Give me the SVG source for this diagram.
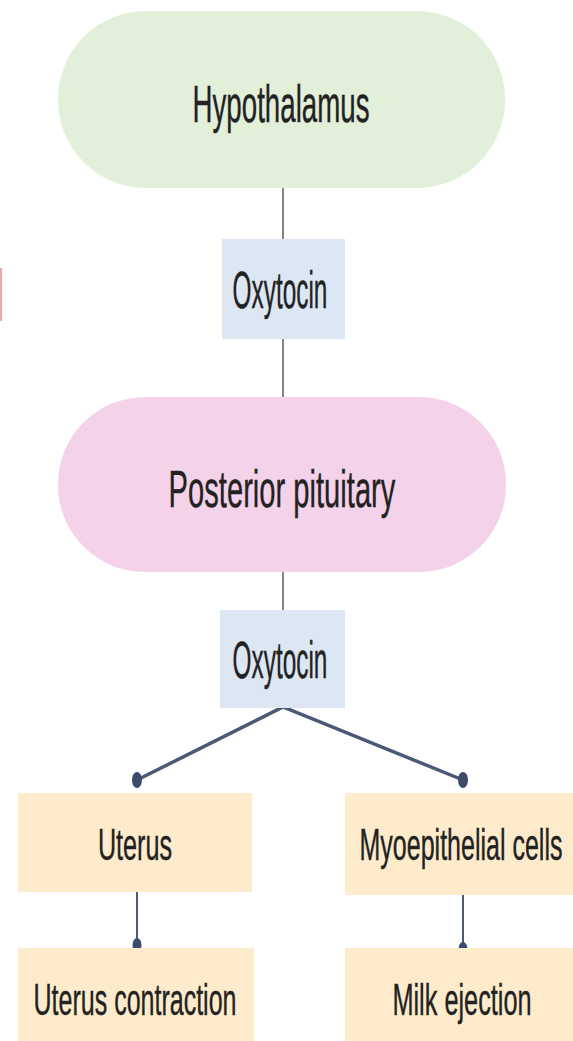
<svg xmlns="http://www.w3.org/2000/svg" width="573" height="1041" viewBox="0 0 573 1041">
<defs>
<style>
.lbl{font-family:"Liberation Sans",Arial,sans-serif;fill:#222;text-anchor:middle;stroke:#222;stroke-width:0.4}
.big{font-size:52px}
.sm{font-size:45px}
.thin{stroke:#666;stroke-width:1.6;fill:none}
.blue{stroke:#4d5877;fill:none}
.dot{fill:#3c4a6c}
</style>
</defs>
<rect width="573" height="1041" fill="#ffffff"/>
<rect x="0" y="268" width="2" height="53" fill="#f2a6a6"/>
<g id="connectors">
<line class="thin" x1="283" y1="188" x2="283" y2="239"/>
<line class="thin" x1="283" y1="339" x2="283" y2="397"/>
<line class="thin" x1="283" y1="572" x2="283" y2="611"/>
<polyline class="blue" stroke-width="3.5" points="137,780 283,707 463,780"/>
<ellipse class="dot" cx="137" cy="780" rx="5" ry="8"/>
<ellipse class="dot" cx="463" cy="780" rx="5" ry="8"/>
<line class="blue" stroke-width="2" x1="137" y1="892" x2="137" y2="945"/>
<ellipse class="dot" cx="137" cy="945" rx="4.5" ry="7"/>
<line class="blue" stroke-width="2" x1="463" y1="895" x2="463" y2="949"/>
<ellipse class="dot" cx="463" cy="949" rx="4.5" ry="7"/>
</g>
<g id="hypothalamus">
<rect x="58" y="11" width="447" height="177" rx="88" ry="88" fill="#e2efd9"/>
<text class="lbl big" transform="translate(281,122) scale(0.6,1)" x="0" y="0" textLength="295" lengthAdjust="spacingAndGlyphs">Hypothalamus</text>
</g>
<g id="oxytocin1">
<rect x="222" y="239" width="123" height="100" fill="#dce7f3"/>
<text class="lbl big" transform="translate(280,308) scale(0.6,1)" x="0" y="0" textLength="158" lengthAdjust="spacingAndGlyphs">Oxytocin</text>
</g>
<g id="posterior-pituitary">
<rect x="58" y="397" width="448" height="175" rx="87" ry="87" fill="#f4d2ea"/>
<text class="lbl big" transform="translate(282,507) scale(0.6,1)" x="0" y="0" textLength="378" lengthAdjust="spacingAndGlyphs">Posterior pituitary</text>
</g>
<g id="oxytocin2">
<rect x="220" y="610" width="125" height="98" fill="#dce7f3"/>
<text class="lbl big" transform="translate(280,678) scale(0.6,1)" x="0" y="0" textLength="158" lengthAdjust="spacingAndGlyphs">Oxytocin</text>
</g>
<g id="uterus">
<rect x="18" y="793" width="234" height="99" fill="#fdebcb"/>
<text class="lbl sm" transform="translate(135,860) scale(0.55,1)" x="0" y="0" textLength="135" lengthAdjust="spacingAndGlyphs">Uterus</text>
</g>
<g id="myoepithelial">
<rect x="345" y="793" width="228" height="102" fill="#fdebcb"/>
<text class="lbl sm" transform="translate(461,860) scale(0.55,1)" x="0" y="0" textLength="369" lengthAdjust="spacingAndGlyphs">Myoepithelial  cells</text>
</g>
<g id="uterus-contraction">
<rect x="18" y="948" width="236" height="93" fill="#fdebcb"/>
<text class="lbl sm" transform="translate(135,1015) scale(0.55,1)" x="0" y="0" textLength="369" lengthAdjust="spacingAndGlyphs">Uterus contraction</text>
</g>
<g id="milk-ejection">
<rect x="345" y="948" width="228" height="93" fill="#fdebcb"/>
<text class="lbl sm" transform="translate(462,1015) scale(0.55,1)" x="0" y="0" textLength="253" lengthAdjust="spacingAndGlyphs">Milk ejection</text>
</g>
</svg>
